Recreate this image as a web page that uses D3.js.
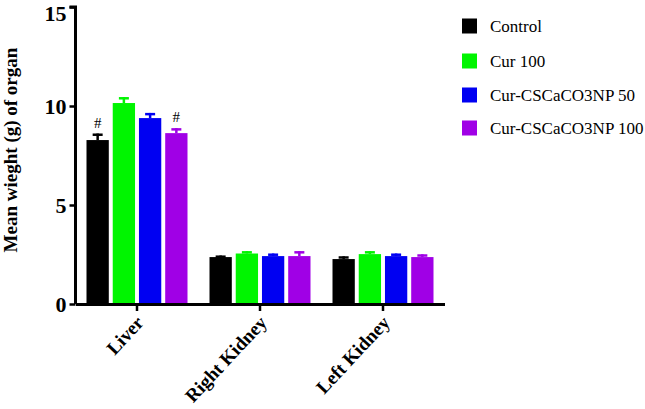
<!DOCTYPE html>
<html>
<head>
<meta charset="utf-8">
<script src="https://cdn.jsdelivr.net/npm/d3@7"></script>
<style>
  body { margin: 0; background: #fff; }
  text { font-family: "Liberation Serif", "Times New Roman", serif; }
</style>
</head>
<body>
<script>
// data
const categories = ["Liver", "Right Kidney", "Left Kidney"];
const series = ["Control", "Cur 100", "Cur-CSCaCO3NP 50", "Cur-CSCaCO3NP 100"];
const colors = ["#000000", "#00f500", "#0000f2", "#a000e6"];
const controlMean = [8.28, 2.37, 2.27];
const cur100Mean = [10.15, 2.55, 2.52];
const np50Mean = [9.39, 2.42, 2.42];
const np100Mean = [8.63, 2.42, 2.37];
const controlErr = [0.33, 0.08, 0.14];
const cur100Err = [0.3, 0.12, 0.15];
const np50Err = [0.26, 0.13, 0.13];
const np100Err = [0.25, 0.25, 0.14];
const yTicks = [0, 5, 10, 15];
// "#" markers: [category, series]
const hashMarks = [["Liver", "Control"], ["Liver", "Cur-CSCaCO3NP 100"]];

const means = [controlMean, cur100Mean, np50Mean, np100Mean];
const errs = [controlErr, cur100Err, np50Err, np100Err];

const width = 645, height = 409;
const svg = d3.select("body").append("svg")
  .attr("width", width)
  .attr("height", height);

// scales
const x0 = d3.scaleBand().domain(categories).range([75.5, 444.5]);
const x1 = d3.scaleBand().domain(series).range([-50.5, 50.5]).paddingInner(0.15);
const y = d3.scaleLinear().domain([0, 15]).range([304, 7]);

// flat list of bars
const bars = [];
series.forEach((s, si) => {
  categories.forEach((c, ci) => {
    bars.push({cat: c, ser: s, color: colors[si], value: means[si][ci], err: errs[si][ci]});
  });
});

const barX = d => x0(d.cat) + x0.bandwidth() / 2 + x1(d.ser);

// error bars (drawn first, bar covers lower half)
const eb = svg.append("g").attr("class", "errors");
eb.selectAll("line.stem").data(bars).enter().append("line")
  .attr("x1", d => barX(d) + x1.bandwidth() / 2)
  .attr("x2", d => barX(d) + x1.bandwidth() / 2)
  .attr("y1", d => y(d.value))
  .attr("y2", d => y(d.value + d.err))
  .attr("stroke", d => d.color)
  .attr("stroke-width", 2.5);
eb.selectAll("line.cap").data(bars).enter().append("line")
  .attr("x1", d => barX(d) + x1.bandwidth() / 2 - 5)
  .attr("x2", d => barX(d) + x1.bandwidth() / 2 + 5)
  .attr("y1", d => y(d.value + d.err) + 1.2)
  .attr("y2", d => y(d.value + d.err) + 1.2)
  .attr("stroke", d => d.color)
  .attr("stroke-width", 2.5);

// bars
svg.append("g").selectAll("rect").data(bars).enter().append("rect")
  .attr("x", barX)
  .attr("width", x1.bandwidth())
  .attr("y", d => y(d.value))
  .attr("height", d => y(0) - y(d.value))
  .attr("fill", d => d.color);

// # markers
svg.append("g").selectAll("text").data(hashMarks).enter().append("text")
  .attr("x", d => x0(d[0]) + x0.bandwidth() / 2 + x1(d[1]) + x1.bandwidth() / 2)
  .attr("y", d => {
    const b = bars.find(e => e.cat === d[0] && e.ser === d[1]);
    return y(b.value + b.err) - 6;
  })
  .attr("text-anchor", "middle")
  .style("font-size", "15px")
  .text("#");

// y axis
const yAxis = svg.append("g")
  .attr("transform", "translate(75.5,0)")
  .call(d3.axisLeft(y).tickValues(yTicks).tickSize(6).tickPadding(3).tickFormat(d3.format("d")));
yAxis.select(".domain").attr("stroke-width", 3).attr("d", `M-6,${y(15)}H0V${y(0)}`);
yAxis.selectAll(".tick line").attr("stroke-width", 2.5);
yAxis.selectAll(".tick text")
  .style("font-size", "22px")
  .style("font-weight", "bold")
  .attr("fill", "#000")
  .attr("dy", d => d === 15 ? "0.6em" : "0.36em"); // keep the top label inside the frame

// x axis
const xAxis = svg.append("g")
  .attr("transform", `translate(0,${y(0)})`)
  .call(d3.axisBottom(x0).tickSize(7).tickSizeOuter(0));
xAxis.select(".domain").attr("stroke-width", 3);
xAxis.selectAll(".tick line").attr("stroke-width", 2.5);
xAxis.selectAll(".tick text")
  .style("font-size", "19px")
  .style("font-weight", "bold")
  .attr("fill", "#000")
  .attr("text-anchor", "end")
  .attr("dy", "0.35em")
  .attr("transform", "translate(3,15) rotate(-47)")
  .attr("y", 0)
  .attr("x", 0);

// y axis title
svg.append("text")
  .attr("transform", `translate(17,150) rotate(-90)`)
  .attr("text-anchor", "middle")
  .style("font-size", "19px")
  .style("font-weight", "bold")
  .text("Mean wieght (g) of organ");

// legend
const legendY = [26, 61, 95, 128];
const legend = svg.append("g").selectAll("g").data(series).enter().append("g")
  .attr("transform", (d, i) => `translate(462,${legendY[i]})`);
legend.append("rect")
  .attr("x", 0).attr("y", -7.5)
  .attr("width", 15).attr("height", 15)
  .attr("fill", (d, i) => colors[i]);
legend.append("text")
  .attr("x", 28).attr("y", 0)
  .attr("dy", "0.35em")
  .style("font-size", "17px")
  .text(d => d);
</script>
</body>
</html>
